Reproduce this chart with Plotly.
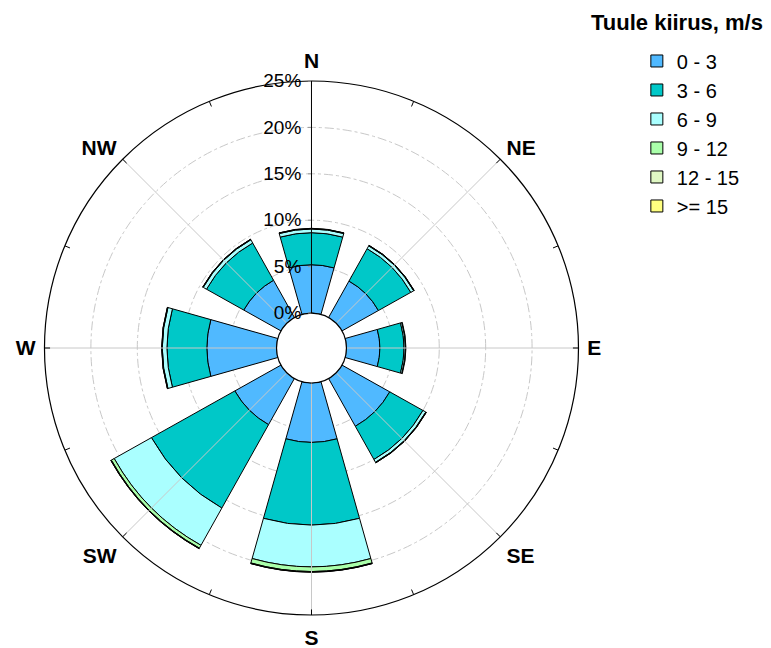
import plotly.graph_objects as go

# Wind directions (compass sectors) and their bearings in degrees
directions = ["N", "NE", "E", "SE", "S", "SW", "W", "NW"]
bearings = [0, 45, 90, 135, 180, 225, 270, 315]

# Frequency (%) of each wind-speed class per direction
speed_classes = ["0 - 3", "3 - 6", "6 - 9", "9 - 12", "12 - 15", ">= 15"]
freq_0_3 = [5.2, 4.5, 3.6, 5.9, 6.4, 5.7, 7.5, 4.6]
freq_3_6 = [3.45, 4.0, 2.6, 4.1, 8.9, 10.3, 4.3, 4.6]
freq_6_9 = [0.4, 0.35, 0.15, 0.35, 4.5, 4.6, 0.5, 0.4]
freq_9_12 = [0.05, 0.05, 0.05, 0.05, 0.5, 0.35, 0.05, 0.05]
freq_12_15 = [0.02, 0.02, 0.0, 0.02, 0.05, 0.05, 0.02, 0.02]
freq_15_up = [0.0, 0.0, 0.0, 0.0, 0.02, 0.02, 0.0, 0.0]
class_colors = ["#50B9FF", "#00C8C8", "#AAFFFF", "#AAFFAA", "#E0F8C4", "#FFFF80"]

radial_ticks = [0, 5, 10, 15, 20, 25]
radial_labels = [f"{v}%" for v in radial_ticks]

# Compass ticks every 22.5 degrees, labelled only on the 8 main directions
tick_angles = [i * 22.5 for i in range(16)]
tick_text = [directions[i // 2] if i % 2 == 0 else "" for i in range(16)]

FONT = "Arial, Liberation Sans, sans-serif"
R_MAX = radial_ticks[-1]

fig = go.Figure()

# Light radial spokes for the 8 main directions
for b in bearings:
    fig.add_trace(go.Scatterpolar(
        r=[0, R_MAX], theta=[b, b], mode="lines",
        line=dict(color="#C8C8C8", width=1),
        showlegend=False, hoverinfo="skip",
    ))

# Short inward compass tick marks on the rim every 22.5 degrees
rim_r, rim_t = [], []
for a in tick_angles:
    rim_r += [R_MAX - 0.6, R_MAX, None]
    rim_t += [a, a, None]
fig.add_trace(go.Scatterpolar(
    r=rim_r, theta=rim_t, mode="lines",
    line=dict(color="black", width=1),
    showlegend=False, hoverinfo="skip",
))

series = [freq_0_3, freq_3_6, freq_6_9, freq_9_12, freq_12_15, freq_15_up]
for name, values, color in zip(speed_classes, series, class_colors):
    fig.add_trace(go.Barpolar(
        r=values, theta=bearings, width=31.5, name=name,
        marker=dict(color=color, line=dict(color="black", width=1)),
    ))

fig.update_layout(
    width=771, height=648,
    margin=dict(l=0, r=0, t=0, b=0),
    paper_bgcolor="white",
    font=dict(family=FONT, color="black"),
    polar=dict(
        domain=dict(x=[0.0577, 0.7503], y=[0.0509, 0.875]),
        hole=0.131,
        bgcolor="white",
        barmode="stack",
        radialaxis=dict(
            range=[0, R_MAX], tickmode="array",
            tickvals=radial_ticks, ticktext=radial_labels,
            angle=90, tickangle=90, side="counterclockwise",
            showline=True, linecolor="black", linewidth=1,
            ticks="outside", ticklen=3, tickcolor="#999999",
            gridcolor="#C8C8C8", griddash="dashdot", gridwidth=1,
            tickfont=dict(size=19, family=FONT, color="black"),
        ),
        angularaxis=dict(
            rotation=90, direction="clockwise",
            tickmode="array", tickvals=tick_angles, ticktext=tick_text,
            ticks="outside", ticklen=4, tickcolor="rgba(0,0,0,0)",
            showgrid=False,
            showline=True, linecolor="black", linewidth=1.2,
            tickfont=dict(size=21, family=FONT, color="black", weight="bold"),
        ),
    ),
    legend=dict(
        x=0.826, y=0.936, xanchor="left", yanchor="top",
        font=dict(size=20, family=FONT),
        traceorder="normal",
        tracegroupgap=0,
        itemwidth=30,
    ),
    annotations=[dict(
        text="Tuule kiirus, m/s", x=0.878, y=0.966,
        xref="paper", yref="paper", xanchor="center", yanchor="middle",
        showarrow=False, font=dict(size=22, family=FONT, weight="bold"),
    )],
)

fig.write_html("out.html")
